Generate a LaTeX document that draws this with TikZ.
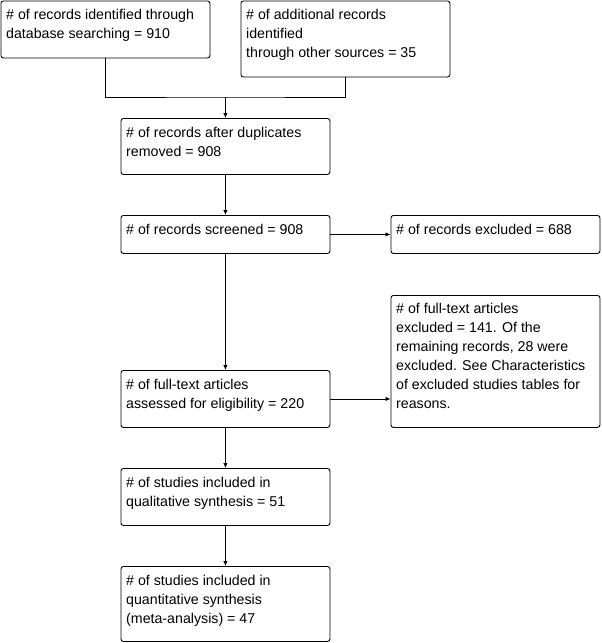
\documentclass[tikz,border=0pt]{standalone}
\usepackage{fontspec}
\setmainfont{Liberation Sans}
\usetikzlibrary{arrows.meta}
\tikzset{
  box/.style={draw, line width=0.9pt, rounded corners=2.5pt, minimum width=209pt, inner sep=0pt, anchor=north west},
  txt/.style={anchor=north west, inner sep=0pt, align=left, font=\fontsize{14.2}{19}\selectfont},
  conn/.style={line width=0.9pt},
  arr/.style={conn, -{Latex[length=5pt,width=4.5pt]}}
}
\begin{document}
\begin{tikzpicture}[x=1pt,y=-1pt]
\useasboundingbox (0,0) rectangle (602,643);
\node[box, minimum height=57pt] (b1) at (0.5,0.5) {};
\node[txt] (t1) at (6,9) {\# of records identified through\\database searching = 910};
\node[box, minimum height=76pt] (b2) at (240.5,0.5) {};
\node[txt] (t2) at (246,9) {\# of additional records\\identified\\through other sources = 35};
\node[box, minimum height=56pt] (b3) at (120.5,118) {};
\node[txt] (t3) at (126,127) {\# of records after duplicates\\removed = 908};
\node[box, minimum height=38pt] (b4) at (120.5,215) {};
\node[txt] (t4) at (126,224) {\# of records screened = 908};
\node[box, minimum height=38pt] (b5) at (390.5,215) {};
\node[txt] (t5) at (396,224) {\# of records excluded = 688};
\node[box, minimum height=132pt] (b6) at (390.5,295) {};
\node[txt] (t6) at (396,303) {\# of full-text articles\\excluded = 141. Of the\\remaining records, 28 were\\excluded. See Characteristics\\of excluded studies tables for\\reasons.};
\node[box, minimum height=57pt] (b7) at (120.5,370) {};
\node[txt] (t7) at (126,379) {\# of full-text articles\\assessed for eligibility = 220};
\node[box, minimum height=57pt] (b8) at (120.5,468) {};
\node[txt] (t8) at (126,477) {\# of studies included in\\qualitative synthesis = 51};
\node[box, minimum height=75pt] (b9) at (120.5,566) {};
\node[txt] (t9) at (126,575) {\# of studies included in\\quantitative synthesis\\(meta-analysis) = 47};
\coordinate (j) at (b3.north |- 0,97);
\draw[conn] (b1.south) |- (j) -| (b2.south);
\draw[arr] (j) -- (b3.north);
\draw[arr] (b3.south) -- (b4.north);
\draw[arr] (b4.east) -- (b5.west);
\draw[arr] (b4.south) -- (b7.north);
\draw[arr] (b7.east) -- (b7.east -| b6.west);
\draw[arr] (b7.south) -- (b8.north);
\draw[arr] (b8.south) -- (b9.north);
\end{tikzpicture}
\end{document}
